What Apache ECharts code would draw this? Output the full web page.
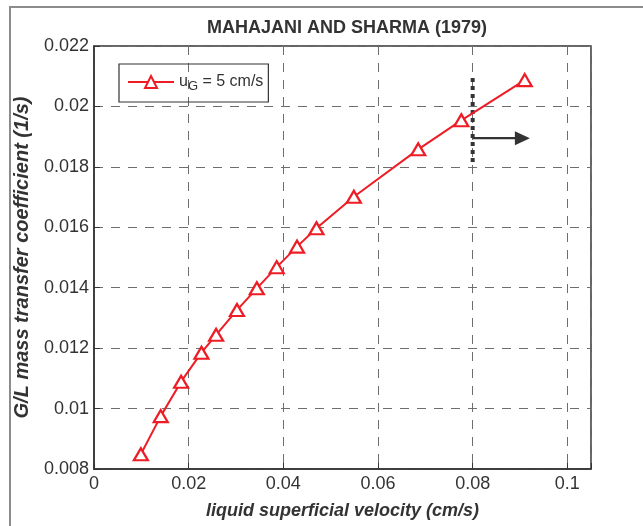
<!DOCTYPE html>
<html>
<head>
<meta charset="utf-8">
<script src="https://cdn.jsdelivr.net/npm/echarts@6/dist/echarts.min.js"></script>
<style>
html,body{margin:0;padding:0;background:#fff;}
#frame{position:absolute;left:9px;top:6px;right:-5px;bottom:-5px;border:2px solid #8c8c8c;}
#chart{position:absolute;left:0;top:0;width:643px;height:526px;}
</style>
</head>
<body>
<div id="frame"></div>
<div id="chart"></div>
<script>
// Data
const titleText = 'MAHAJANI AND SHARMA (1979)';
const xName = 'liquid superficial velocity (cm/s)';
const yName = 'G/L mass transfer coefficient (1/s)';
const seriesName = 'uG = 5 cm/s';
const velocity = [0.0099, 0.0141, 0.0184, 0.0227, 0.0258, 0.0302, 0.0344, 0.0386, 0.0429, 0.0470, 0.0549, 0.0685, 0.0776, 0.0910];
const kla = [0.00849, 0.00975, 0.01089, 0.01185, 0.01244, 0.01326, 0.01398, 0.01468, 0.01536, 0.01597, 0.01701, 0.01858, 0.01954, 0.02087];
const dividerX = [0.08, 0.08];
const dividerY = [0.02094, 0.01815];
const arrowX = [0.08, 0.0905];
const arrowY = [0.01895, 0.01895];
const xTicks = [0, 0.02, 0.04, 0.06, 0.08, 0.1];
const yTicks = [0.008, 0.01, 0.012, 0.014, 0.016, 0.018, 0.02, 0.022];

const chart = echarts.init(document.getElementById('chart'), null, {renderer: 'canvas'});
const txt = '#333333';
const FONT = 'Liberation Sans, Arial, sans-serif';
function isTick(v, list){ return list.some(t => Math.abs(t - v) < 1e-9); }

chart.setOption({
  animation: false,
  backgroundColor: 'transparent',
  title: {
    text: titleText, left: 342, top: 14, textAlign: 'center',
    textStyle: {fontFamily: FONT, fontSize: 18, fontWeight: 'bold', color: txt}
  },
  grid: {left: 94, right: 52, top: 46, bottom: 57, show: true, borderColor: '#333', borderWidth: 1.5, backgroundColor: 'transparent'},
  legend: {
    left: 119, top: 64, orient: 'vertical',
    data: [seriesName],
    itemWidth: 46, itemHeight: 15,
    borderColor: '#333', borderWidth: 1.2, borderRadius: 0,
    padding: [10, 5, 9, 8],
    formatter: function(){ return '{a|u}{b|G}{a| = 5 cm/s}'; },
    textStyle: {
      fontFamily: FONT, color: txt,
      rich: {
        a: {fontSize: 16, fontFamily: FONT, color: txt},
        b: {fontSize: 13, fontFamily: FONT, color: txt, verticalAlign: 'bottom', padding: [9, 0, 0, 0]}
      }
    }
  },
  xAxis: {
    type: 'value', min: 0, max: 0.105, interval: 0.02,
    name: xName, nameLocation: 'middle', nameGap: 33,
    nameTextStyle: {fontFamily: FONT, fontSize: 18, fontWeight: 'bold', fontStyle: 'italic', color: txt},
    axisLine: {show: true, onZero: false, lineStyle: {color: '#333', width: 1.5}},
    axisTick: {show: true, inside: true, length: 6, lineStyle: {color: '#333'}},
    axisLabel: {
      fontFamily: FONT, fontSize: 18, color: txt, margin: 6,
      formatter: v => isTick(v, xTicks) ? String(+v.toFixed(4)) : ''
    },
    splitLine: {show: true, lineStyle: {color: '#6e6e6e', type: [9, 8], width: 1}}
  },
  yAxis: {
    type: 'value', min: 0.008, max: 0.022, interval: 0.002,
    name: yName, nameLocation: 'middle', nameGap: 62, nameRotate: 90,
    nameTextStyle: {fontFamily: FONT, fontSize: 20, fontWeight: 'bold', fontStyle: 'italic', color: txt},
    axisLine: {show: true, onZero: false, lineStyle: {color: '#333', width: 1.5}},
    axisTick: {show: true, inside: true, length: 6, lineStyle: {color: '#333'}},
    axisLabel: {
      fontFamily: FONT, fontSize: 18, color: txt, margin: 5,
      formatter: v => isTick(v, yTicks) ? String(+v.toFixed(4)) : ''
    },
    splitLine: {show: true, lineStyle: {color: '#6e6e6e', type: [9, 8], width: 1}}
  },
  series: [
    {
      name: seriesName, type: 'line',
      data: velocity.map((x, i) => [x, kla[i]]),
      symbol: 'triangle', symbolSize: [14, 12],
      lineStyle: {color: '#ee1c25', width: 2},
      itemStyle: {color: '#fff', borderColor: '#ee1c25', borderWidth: 2.2},
      z: 5
    },
    {
      name: 'divider', type: 'line',
      data: dividerX.map((x, i) => [x, dividerY[i]]),
      symbol: 'none', silent: true,
      lineStyle: {color: '#333', width: 4, type: [4, 4], cap: 'butt'},
      z: 3
    },
    {
      name: 'arrow', type: 'line',
      data: arrowX.map((x, i) => [x, arrowY[i]]),
      symbol: 'none', silent: true,
      lineStyle: {color: '#333', width: 2.2},
      markLine: {
        silent: true, animation: false,
        symbol: ['none', 'triangle'], symbolSize: [14, 15],
        label: {show: false},
        lineStyle: {color: '#333', width: 0.01, type: 'solid'},
        itemStyle: {color: '#333'},
        data: [[{coord: [arrowX[0], arrowY[0]]}, {coord: [arrowX[1], arrowY[1]]}]]
      },
      z: 3
    }
  ]
});
</script>
</body>
</html>
